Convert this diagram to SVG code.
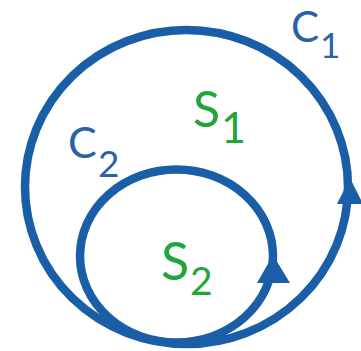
<svg xmlns="http://www.w3.org/2000/svg" width="361" height="351" viewBox="0 0 361 351">
<style>
.curve{fill:none;stroke:#1b5ea8;stroke-width:8.5}
.arrow{fill:#1b5ea8}
.c{fill:#2a62a8;font-family:Lato,"Liberation Sans",sans-serif}
.s{fill:#22a63c;font-family:Lato,"Liberation Sans",sans-serif}
</style>
<rect width="361" height="351" fill="#ffffff"/>
<g id="C1">
<ellipse class="curve" cx="186.5" cy="187" rx="161.5" ry="157"/>
<polygon class="arrow" points="350,178 337,204 363,204"/>
<text class="c" x="291" y="42" font-size="42">C</text>
<text class="c" x="320" y="58" font-size="35">1</text>
</g>
<g id="C2">
<ellipse class="curve" cx="176.5" cy="256" rx="96.5" ry="86.5"/>
<polygon class="arrow" points="273,255 257,283 290,283"/>
<text class="c" x="68" y="158" font-size="43">C</text>
<text class="c" x="98" y="177" font-size="37">2</text>
</g>
<g id="S1">
<text class="s" x="193" y="127" font-size="50">S</text>
<text class="s" x="221" y="143" font-size="43">1</text>
</g>
<g id="S2">
<text class="s" x="161" y="280" font-size="52">S</text>
<text class="s" x="190" y="295" font-size="39">2</text>
</g>
</svg>
